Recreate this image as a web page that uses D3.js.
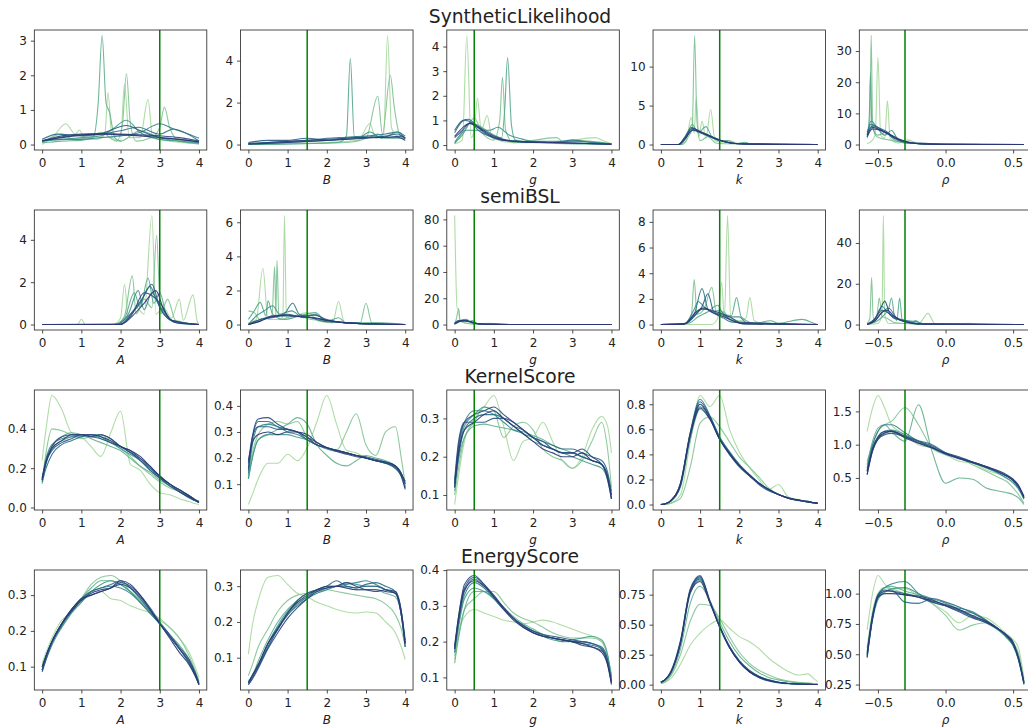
<!DOCTYPE html>
<html>
<head>
<meta charset="utf-8">
<script src="https://cdn.jsdelivr.net/npm/d3@7"></script>
<style>
  body { margin: 0; background: #fff; }
  svg text { font-family: "DejaVu Sans", sans-serif; fill: #222; }
</style>
</head>
<body>
<svg id="chart" width="1028" height="727"></svg>
<script>
const methods = ["SyntheticLikelihood", "semiBSL", "KernelScore", "EnergyScore"];
const params = ["A", "B", "g", "k", "ρ"];
const trueValues = [3, 1.5, 0.5, 1.5, -0.3];

const xTickLabels = ["0", "1", "2", "3", "4"];
const rhoTickLabels = ["−0.5", "0.0", "0.5"];
const yTickLabels = [
  [["0", "1", "2", "3"], ["0", "2", "4"], ["0", "1", "2", "3", "4"], ["0", "5", "10"], ["0", "10", "20", "30"]],
  [["0", "2", "4"], ["0", "2", "4", "6"], ["0", "20", "40", "60", "80"], ["0", "2", "4", "6", "8"], ["0", "20", "40"]],
  [["0.0", "0.2", "0.4"], ["0.1", "0.2", "0.3", "0.4"], ["0.1", "0.2", "0.3"], ["0.0", "0.2", "0.4", "0.6", "0.8"], ["0.5", "1.0", "1.5"]],
  [["0.1", "0.2", "0.3"], ["0.1", "0.2", "0.3"], ["0.1", "0.2", "0.3", "0.4"], ["0.00", "0.25", "0.50", "0.75"], ["0.25", "0.50", "0.75", "1.00"]]
];

// evaluation points for the smooth rows (KernelScore, EnergyScore)
const xGrid = [0, 0.1, 0.25, 0.5, 0.75, 1, 1.25, 1.5, 1.75, 2, 2.25, 2.5, 2.75, 3, 3.25, 3.5, 3.75, 3.9, 4];
const rhoGrid = [-0.58, -0.54, -0.5, -0.45, -0.4, -0.3, -0.2, -0.1, 0, 0.1, 0.2, 0.3, 0.4, 0.45, 0.5, 0.54, 0.58];

// SyntheticLikelihood: [x, density] knots per run
const slA = [
  [[0,0],[0.3,0.25],[0.6,0.6],[0.85,0.3],[0.95,0.42],[1.1,0.15],[1.4,0.15],[1.6,0.3],[1.68,1.5],[1.78,0.2],[2.0,0.1],[2.1,1.75],[2.22,0.2],[2.5,0.2],[2.7,1.3],[2.82,0.2],[3.2,0.1],[4,0.02]],
  [[0,0.05],[0.5,0.3],[0.8,0.15],[1.2,0.2],[1.5,0.35],[1.9,0.1],[2.05,0.6],[2.15,2.05],[2.25,0.6],[2.4,0.1],[2.8,0.2],[3.0,0.5],[3.12,1.08],[3.25,0.5],[3.5,0.1],[4,0.02]],
  [[0,0.05],[0.5,0.1],[1.0,0.12],[1.3,0.2],[1.43,1.2],[1.53,3.15],[1.63,1.2],[1.72,0.93],[1.85,0.2],[2.0,0.1],[2.5,0.4],[3.0,0.2],[3.5,0.1],[4,0.03]],
  [[0,0.1],[0.5,0.15],[1,0.2],[1.5,0.25],[1.8,0.45],[2.15,0.7],[2.5,0.35],[3.0,0.15],[3.5,0.1],[4,0.05]],
  [[0,0.12],[0.5,0.15],[1,0.15],[1.5,0.2],[2,0.25],[2.5,0.35],[3.0,0.6],[3.35,0.45],[3.75,0.3],[4,0.18]],
  [[0,0.15],[0.4,0.3],[1,0.25],[1.5,0.3],[2,0.4],[2.45,0.5],[3,0.3],[3.35,0.45],[3.8,0.25],[4,0.1]],
  [[0,0.1],[0.5,0.22],[1,0.28],[1.5,0.32],[2.15,0.55],[2.5,0.4],[3,0.2],[3.5,0.15],[4,0.08]],
  [[0,0.1],[0.5,0.25],[1,0.3],[1.5,0.32],[2,0.3],[2.5,0.28],[3,0.25],[3.5,0.2],[4,0.1]],
  [[0,0.1],[0.5,0.2],[1,0.27],[1.5,0.3],[2,0.28],[2.5,0.25],[3,0.2],[3.5,0.15],[4,0.07]]
];
const slB = [
  [[0,0],[1,0.05],[2,0.1],[2.8,0.2],[3.1,1.0],[3.25,0.3],[3.45,0.5],[3.55,5.2],[3.65,0.8],[3.8,0.4],[4,0.3]],
  [[0,0],[1.5,0.05],[2.5,0.1],[3.0,0.3],[3.3,2.3],[3.42,0.5],[3.62,3.3],[3.72,1.8],[3.85,0.5],[4,0.2]],
  [[0,0],[2.3,0.1],[2.5,0.4],[2.6,4.1],[2.7,0.4],[3.0,0.3],[3.3,0.5],[3.5,0.3],[4,0.3]],
  [[0,0],[1,0.1],[2,0.2],[2.8,0.3],[3.1,0.6],[3.4,0.3],[3.8,0.6],[4,0.3]],
  [[0,0.05],[1,0.15],[1.5,0.2],[2,0.3],[2.5,0.35],[3,0.4],[3.5,0.5],[3.8,0.6],[4,0.4]],
  [[0,0.1],[0.5,0.2],[1,0.2],[1.5,0.3],[2,0.2],[2.5,0.3],[3.0,0.35],[3.5,0.4],[3.8,0.5],[4,0.3]],
  [[0,0.05],[0.5,0.1],[1,0.15],[1.5,0.2],[2,0.25],[2.5,0.3],[3,0.35],[3.5,0.35],[3.9,0.4],[4,0.3]],
  [[0,0.02],[1,0.1],[2,0.2],[3,0.3],[3.5,0.35],[3.8,0.35],[4,0.2]]
];
const slG = [
  [[0,0.05],[0.2,0.2],[0.31,4.45],[0.42,0.3],[0.5,0.6],[0.58,1.9],[0.68,0.6],[0.83,1.2],[0.95,0.3],[1.5,0.1],[2.5,0.1],[3.6,0.3],[3.75,0.2],[4,0.05]],
  [[0,0.05],[0.3,0.7],[0.5,1.1],[0.7,0.5],[1.0,0.2],[1.15,1.0],[1.22,2.75],[1.3,0.6],[1.5,0.1],[2.6,0.3],[2.8,0.1],[3,0.2],[4,0.05]],
  [[0,0.1],[0.2,0.4],[0.4,0.9],[0.6,0.8],[0.9,0.5],[1.2,0.3],[1.28,1.5],[1.35,3.55],[1.45,0.8],[1.55,0.2],[2,0.1],[4,0.02]],
  [[0,0.1],[0.3,0.6],[0.6,0.6],[0.9,0.6],[1.1,0.72],[1.4,0.4],[1.7,0.25],[2,0.15],[3,0.15],[4,0.05]],
  [[0,0.5],[0.25,1.0],[0.4,0.95],[0.6,0.6],[0.9,0.35],[1.2,0.2],[1.7,0.15],[2.5,0.1],[3,0.2],[3.5,0.1],[4,0.05]],
  [[0,0.6],[0.2,1.0],[0.35,1.05],[0.55,0.8],[0.8,0.45],[1.1,0.25],[1.5,0.15],[2.5,0.1],[4,0.03]],
  [[0,0.3],[0.2,0.6],[0.4,0.9],[0.6,0.75],[0.9,0.45],[1.2,0.25],[1.6,0.15],[2.5,0.1],[4,0.03]],
  [[0,0.35],[0.2,0.7],[0.38,0.88],[0.6,0.7],[0.9,0.4],[1.2,0.22],[1.6,0.14],[2.5,0.1],[4,0.03]]
];
const slK = [
  [[0,0],[0.5,0],[0.65,0.5],[0.77,3.5],[0.85,1.5],[0.9,6],[0.97,1.0],[1.05,3.0],[1.15,0.8],[1.27,4.5],[1.38,0.5],[1.6,0.3],[1.75,0.5],[2,0.1],[4,0]],
  [[0,0],[0.55,0],[0.7,1.0],[0.8,2.0],[0.86,14],[0.92,3.0],[1.0,0.5],[1.2,1.0],[1.4,0.2],[1.6,0.1],[4,0]],
  [[0,0],[0.5,0],[0.65,1.0],[0.8,2.6],[0.95,1.5],[1.15,2.3],[1.3,1.0],[1.5,0.5],[1.7,0.5],[1.9,0.1],[2.15,0.3],[2.3,0.05],[4,0]],
  [[0,0],[0.45,0],[0.6,0.8],[0.8,2.0],[1.0,1.6],[1.2,1.2],[1.5,0.6],[1.8,0.2],[2.5,0.05],[4,0]],
  [[0,0],[0.45,0],[0.6,0.9],[0.78,2.2],[1.0,1.5],[1.3,0.9],[1.6,0.4],[2,0.1],[4,0]],
  [[0,0],[0.45,0],[0.6,0.7],[0.8,1.8],[1.0,1.6],[1.3,1.0],[1.6,0.4],[2,0.1],[4,0]],
  [[0,0],[0.45,0],[0.6,0.8],[0.8,2.1],[1.0,1.7],[1.3,1.0],[1.6,0.4],[2,0.1],[4,0]],
  [[0,0],[0.45,0],[0.6,0.6],[0.82,1.9],[1.05,1.5],[1.35,0.8],[1.7,0.3],[2.2,0.05],[4,0]]
];
const slRho = [
  [[-0.58,0.3],[-0.55,1],[-0.52,3],[-0.5,28],[-0.48,3],[-0.45,2],[-0.43,14],[-0.41,2],[-0.35,0.5],[-0.28,1.5],[-0.2,0.3],[0,0.1],[0.25,0.3],[0.58,0]],
  [[-0.58,2],[-0.56,8],[-0.55,35],[-0.54,8],[-0.52,3],[-0.48,2],[-0.42,1.5],[-0.3,0.5],[-0.15,0.3],[0.58,0]],
  [[-0.58,3],[-0.565,8],[-0.555,23],[-0.545,6],[-0.5,3],[-0.44,4],[-0.38,1.5],[-0.3,0.5],[0,0.1],[0.58,0]],
  [[-0.58,2.5],[-0.55,7.5],[-0.5,5],[-0.45,3],[-0.4,4.5],[-0.35,1.5],[-0.28,0.5],[0,0],[0.58,0]],
  [[-0.58,4],[-0.55,6.5],[-0.5,5.5],[-0.45,4],[-0.4,2.5],[-0.33,1],[-0.25,0.5],[-0.1,0.1],[0.58,0]],
  [[-0.58,3.5],[-0.54,6],[-0.5,5.5],[-0.45,4.5],[-0.4,3],[-0.33,1.2],[-0.25,0.6],[-0.15,0.4],[0,0.05],[0.58,0]],
  [[-0.58,3],[-0.54,5.5],[-0.5,5],[-0.45,4],[-0.4,3],[-0.33,1.5],[-0.25,0.5],[-0.1,0.1],[0.58,0]],
  [[-0.58,2.5],[-0.54,5],[-0.49,4.7],[-0.43,3.5],[-0.38,2.2],[-0.3,1],[-0.2,0.3],[0,0.05],[0.58,0]]
];

// semiBSL: [x, density] knots per run
const sbA = [
  [[0,0],[0.9,0],[1.0,0.25],[1.1,0],[1.8,0],[2.0,0.3],[2.1,1.9],[2.2,0.3],[2.4,0.8],[2.6,0.5],[2.8,5.15],[2.9,0.5],[3.1,0.8],[3.3,0.3],[3.5,1.2],[3.6,0.2],[3.85,1.4],[3.95,0.2],[4,0]],
  [[0,0],[1.9,0],[2.1,0.4],[2.3,2.3],[2.4,0.5],[2.6,1.2],[2.8,0.8],[2.92,4.2],[3.02,0.5],[3.2,1.2],[3.4,0.2],[4,0]],
  [[0,0],[1.8,0],[2.1,0.3],[2.35,1.5],[2.5,0.8],[2.7,2.2],[2.85,1.0],[3.0,1.5],[3.2,0.3],[3.5,0.1],[4,0]],
  [[0,0],[1.9,0],[2.2,0.5],[2.45,1.6],[2.6,0.7],[2.8,1.5],[3.0,0.9],[3.3,0.2],[4,0]],
  [[0,0],[1.9,0],[2.2,0.4],[2.5,1.0],[2.75,1.8],[2.95,1.0],[3.2,0.3],[3.5,0.05],[4,0]],
  [[0,0],[2.0,0],[2.3,0.6],[2.55,1.2],[2.8,1.9],[3.0,0.8],[3.3,0.2],[4,0]],
  [[0,0],[2.0,0.02],[2.3,0.5],[2.6,1.5],[2.85,1.3],[3.05,0.9],[3.3,0.2],[4,0]],
  [[0,0],[2.0,0],[2.3,0.4],[2.6,1.0],[2.9,1.6],[3.1,0.7],[3.4,0.1],[4,0]]
];
const sbB = [
  [[0,0.1],[0.2,0.3],[0.37,3.3],[0.5,0.3],[0.8,0.3],[0.88,0.5],[0.92,6.4],[0.97,0.3],[1.5,0.7],[1.8,0.2],[2.15,0.1],[2.3,1.35],[2.45,0.1],[4,0]],
  [[0,0.8],[0.15,0.7],[0.3,0.3],[0.6,0.5],[0.67,3.4],[0.7,0.5],[0.73,3.75],[0.78,0.3],[1.2,0.5],[1.6,0.3],[2.85,0.1],[3.0,1.25],[3.15,0.1],[4,0]],
  [[0,0.3],[0.15,0.8],[0.3,1.3],[0.45,0.5],[0.5,1.4],[0.62,0.6],[0.9,0.3],[1.3,0.5],[1.7,0.7],[2.0,0.2],[2.3,0.4],[2.5,0.1],[3.4,0.1],[4,0]],
  [[0,0],[0.2,0.5],[0.4,0.8],[0.62,1.1],[0.8,0.6],[1.1,0.8],[1.4,0.4],[1.7,0.6],[2.0,0.2],[3,0.05],[4,0]],
  [[0,0],[0.3,0.3],[0.6,0.5],[0.9,0.6],[1.13,1.25],[1.3,0.6],[1.6,0.4],[1.9,0.2],[2.5,0.1],[4,0]],
  [[0,0],[0.3,0.3],[0.6,0.4],[1.0,0.6],[1.3,0.5],[1.68,0.55],[2.0,0.3],[2.5,0.1],[3.5,0.02],[4,0]],
  [[0,0],[0.3,0.2],[0.6,0.5],[1.0,0.5],[1.4,0.45],[1.7,0.4],[2.0,0.25],[2.5,0.1],[3.5,0.02],[4,0]],
  [[0,0],[0.3,0.2],[0.6,0.45],[1.0,0.55],[1.2,0.5],[1.6,0.4],[2.0,0.25],[2.5,0.1],[3.5,0.02],[4,0]]
];
const sbG = [
  [[0,83],[0.03,40],[0.06,12],[0.1,12],[0.13,3],[0.2,2],[0.3,1],[0.5,0.5],[0.9,1],[1.2,0.3],[1.5,0],[4,0]],
  [[0,0],[0.05,5],[0.1,12],[0.14,3],[0.2,2],[0.3,1],[0.5,0.3],[1,0],[4,0]],
  [[0,0.5],[0.1,2],[0.25,4],[0.35,2],[0.45,3],[0.6,0.5],[1,0.5],[1.3,0],[4,0]],
  [[0,1],[0.1,3],[0.2,2.5],[0.3,4],[0.4,2],[0.6,0.5],[1,0.1],[4,0]],
  [[0,0.5],[0.1,2.5],[0.2,3.5],[0.35,2.5],[0.5,1],[0.8,0.3],[1.2,0],[4,0]],
  [[0,1],[0.1,3],[0.25,3],[0.4,2],[0.6,0.5],[1,0.1],[4,0]],
  [[0,0.5],[0.12,2.5],[0.25,3],[0.4,2.2],[0.6,0.6],[1,0.1],[4,0]],
  [[0,0.3],[0.1,2],[0.2,3],[0.35,2.5],[0.55,0.8],[1,0.1],[4,0]]
];
const sbK = [
  [[0,0],[1.3,0],[1.45,0.5],[1.55,3.3],[1.62,0.4],[1.7,8.5],[1.78,0.5],[2.0,0.3],[2.17,0.5],[2.27,2.1],[2.38,0.3],[2.6,0.1],[4,0]],
  [[0,0],[0.6,0.1],[0.78,0.8],[0.85,3.5],[0.92,0.8],[1.1,1.2],[1.3,2.9],[1.42,0.8],[1.6,1.0],[1.8,0.2],[2.2,0.1],[4,0]],
  [[0,0],[0.7,0.1],[0.95,0.6],[1.2,1.0],[1.45,1.5],[1.6,0.8],[1.8,0.7],[1.93,2.1],[2.05,0.6],[2.4,0.1],[2.8,0.3],[3.0,0.1],[3.6,0.4],[3.9,0.1],[4,0]],
  [[0,0],[0.6,0.05],[0.85,1.2],[0.95,1.8],[1.1,1.4],[1.3,1.0],[1.5,1.1],[1.7,0.6],[2.0,0.6],[2.2,0.1],[4,0]],
  [[0,0],[0.6,0.05],[0.85,0.8],[1.05,2.8],[1.2,1.2],[1.4,0.8],[1.6,0.5],[1.8,0.2],[4,0]],
  [[0,0],[0.6,0.05],[0.9,0.8],[1.05,1.4],[1.2,2.4],[1.35,1.0],[1.6,0.7],[1.9,0.2],[2.2,0.05],[4,0]],
  [[0,0],[0.6,0.05],[0.85,0.7],[1.05,1.2],[1.3,1.1],[1.5,0.9],[1.75,0.6],[2.0,0.2],[4,0]],
  [[0,0],[0.6,0.05],[0.9,1.0],[1.1,1.3],[1.35,0.9],[1.6,0.6],[1.85,0.3],[2.1,0.05],[4,0]]
];
const sbRho = [
  [[-0.58,0],[-0.5,0.5],[-0.47,5],[-0.46,53.5],[-0.45,5],[-0.42,0.5],[-0.3,0.5],[-0.2,0.3],[-0.13,5.5],[-0.08,0.5],[0,0.1],[0.17,0.6],[0.25,0],[0.58,0]],
  [[-0.58,0.5],[-0.56,3],[-0.547,23],[-0.535,3],[-0.51,4],[-0.49,13],[-0.47,4],[-0.43,3],[-0.38,1],[-0.3,0.5],[0,0],[0.58,0]],
  [[-0.58,0],[-0.5,2],[-0.45,5],[-0.42,8],[-0.4,13],[-0.38,5],[-0.36,2],[-0.34,13],[-0.32,2],[-0.25,1],[-0.22,2],[-0.18,0.3],[0.58,0]],
  [[-0.58,0],[-0.52,3],[-0.47,9],[-0.43,6],[-0.38,4],[-0.3,2],[-0.22,1.5],[-0.15,0.2],[0.58,0]],
  [[-0.58,0],[-0.52,2],[-0.47,6],[-0.42,8],[-0.36,3],[-0.3,1.5],[-0.2,0.5],[0.58,0]],
  [[-0.58,0],[-0.52,3],[-0.47,7],[-0.43,6],[-0.38,3],[-0.3,2],[-0.2,0.4],[0.58,0]],
  [[-0.58,0],[-0.53,2],[-0.48,8],[-0.45,11.5],[-0.41,5],[-0.35,2.5],[-0.28,1],[-0.2,0.2],[0.58,0]],
  [[-0.58,0],[-0.52,2],[-0.47,6],[-0.43,7],[-0.38,4],[-0.3,1.5],[-0.2,0.3],[0.58,0]]
];

// KernelScore: density at xGrid / rhoGrid per run
const ksA = [
  [0.24, 0.40, 0.57, 0.50, 0.38, 0.36, 0.31, 0.26, 0.38, 0.49, 0.22, 0.19, 0.12, 0.075, 0.065, 0.045, 0.03, 0.02, 0.015],
  [0.13, 0.28, 0.40, 0.39, 0.37, 0.35, 0.36, 0.37, 0.33, 0.30, 0.26, 0.21, 0.17, 0.13, 0.10, 0.08, 0.05, 0.035, 0.025],
  [0.12, 0.22, 0.31, 0.36, 0.38, 0.37, 0.35, 0.33, 0.31, 0.29, 0.25, 0.21, 0.18, 0.14, 0.11, 0.08, 0.06, 0.04, 0.03],
  [0.14, 0.24, 0.30, 0.34, 0.36, 0.37, 0.37, 0.35, 0.33, 0.30, 0.27, 0.24, 0.19, 0.15, 0.11, 0.08, 0.05, 0.035, 0.025],
  [0.15, 0.25, 0.32, 0.35, 0.36, 0.36, 0.37, 0.36, 0.33, 0.31, 0.28, 0.25, 0.20, 0.16, 0.12, 0.09, 0.06, 0.04, 0.03],
  [0.13, 0.20, 0.27, 0.32, 0.34, 0.36, 0.37, 0.37, 0.35, 0.31, 0.28, 0.24, 0.20, 0.15, 0.12, 0.09, 0.06, 0.04, 0.03],
  [0.14, 0.23, 0.29, 0.33, 0.35, 0.37, 0.36, 0.35, 0.33, 0.31, 0.28, 0.24, 0.19, 0.15, 0.11, 0.08, 0.05, 0.035, 0.025],
  [0.14, 0.24, 0.31, 0.36, 0.37, 0.37, 0.36, 0.37, 0.35, 0.31, 0.29, 0.25, 0.21, 0.16, 0.12, 0.08, 0.055, 0.035, 0.025],
  [0.15, 0.23, 0.30, 0.34, 0.37, 0.37, 0.37, 0.36, 0.34, 0.31, 0.29, 0.26, 0.21, 0.16, 0.12, 0.09, 0.06, 0.04, 0.028]
];
const ksB = [
  [0.022, 0.06, 0.12, 0.18, 0.18, 0.215, 0.19, 0.24, 0.34, 0.44, 0.33, 0.23, 0.22, 0.20, 0.19, 0.18, 0.16, 0.14, 0.11],
  [0.13, 0.22, 0.29, 0.33, 0.34, 0.33, 0.34, 0.28, 0.25, 0.24, 0.23, 0.30, 0.37, 0.25, 0.21, 0.30, 0.32, 0.20, 0.10],
  [0.12, 0.20, 0.27, 0.29, 0.31, 0.33, 0.355, 0.33, 0.25, 0.21, 0.18, 0.17, 0.19, 0.21, 0.20, 0.19, 0.17, 0.14, 0.09],
  [0.12, 0.20, 0.27, 0.29, 0.29, 0.29, 0.28, 0.27, 0.25, 0.24, 0.23, 0.22, 0.21, 0.20, 0.19, 0.18, 0.17, 0.14, 0.09],
  [0.14, 0.25, 0.32, 0.33, 0.32, 0.30, 0.29, 0.27, 0.25, 0.235, 0.225, 0.22, 0.21, 0.20, 0.19, 0.185, 0.17, 0.14, 0.10],
  [0.15, 0.27, 0.34, 0.34, 0.32, 0.31, 0.30, 0.27, 0.25, 0.24, 0.23, 0.22, 0.21, 0.20, 0.19, 0.18, 0.16, 0.13, 0.085],
  [0.18, 0.28, 0.32, 0.32, 0.31, 0.31, 0.30, 0.28, 0.26, 0.24, 0.23, 0.22, 0.21, 0.205, 0.195, 0.185, 0.17, 0.14, 0.10],
  [0.16, 0.28, 0.35, 0.355, 0.33, 0.31, 0.30, 0.28, 0.25, 0.24, 0.225, 0.215, 0.205, 0.20, 0.19, 0.18, 0.165, 0.13, 0.08],
  [0.19, 0.26, 0.29, 0.30, 0.29, 0.30, 0.30, 0.29, 0.26, 0.24, 0.23, 0.22, 0.21, 0.20, 0.19, 0.185, 0.17, 0.14, 0.11]
];
const ksG = [
  [0.075, 0.15, 0.24, 0.30, 0.33, 0.36, 0.28, 0.19, 0.24, 0.25, 0.29, 0.24, 0.19, 0.17, 0.20, 0.27, 0.305, 0.28, 0.21],
  [0.10, 0.17, 0.25, 0.29, 0.33, 0.32, 0.25, 0.28, 0.29, 0.27, 0.22, 0.20, 0.19, 0.17, 0.19, 0.24, 0.29, 0.22, 0.12],
  [0.11, 0.19, 0.25, 0.28, 0.285, 0.28, 0.275, 0.27, 0.265, 0.255, 0.245, 0.23, 0.22, 0.21, 0.20, 0.19, 0.18, 0.15, 0.10],
  [0.12, 0.21, 0.28, 0.31, 0.33, 0.32, 0.30, 0.28, 0.26, 0.25, 0.23, 0.22, 0.21, 0.20, 0.19, 0.18, 0.17, 0.14, 0.09],
  [0.13, 0.22, 0.29, 0.32, 0.32, 0.31, 0.29, 0.27, 0.26, 0.24, 0.23, 0.22, 0.21, 0.21, 0.20, 0.19, 0.18, 0.15, 0.10],
  [0.12, 0.20, 0.27, 0.30, 0.31, 0.31, 0.30, 0.28, 0.27, 0.25, 0.24, 0.23, 0.22, 0.22, 0.21, 0.20, 0.19, 0.16, 0.11],
  [0.14, 0.24, 0.29, 0.29, 0.29, 0.30, 0.30, 0.29, 0.27, 0.25, 0.24, 0.22, 0.21, 0.21, 0.20, 0.19, 0.18, 0.15, 0.10],
  [0.13, 0.23, 0.29, 0.31, 0.32, 0.33, 0.31, 0.29, 0.27, 0.25, 0.23, 0.22, 0.21, 0.21, 0.22, 0.20, 0.18, 0.15, 0.09],
  [0.12, 0.21, 0.27, 0.29, 0.31, 0.32, 0.30, 0.28, 0.26, 0.24, 0.22, 0.21, 0.20, 0.20, 0.21, 0.19, 0.18, 0.14, 0.09]
];
const ksK = [
  [0, 0, 0.01, 0.08, 0.5, 0.87, 0.78, 0.87, 0.6, 0.42, 0.3, 0.2, 0.12, 0.16, 0.06, 0.04, 0.02, 0.015, 0.01],
  [0, 0, 0.01, 0.05, 0.3, 0.65, 0.70, 0.62, 0.5, 0.38, 0.3, 0.22, 0.13, 0.08, 0.05, 0.03, 0.02, 0.015, 0.01],
  [0, 0.005, 0.03, 0.14, 0.52, 0.76, 0.68, 0.52, 0.41, 0.31, 0.24, 0.17, 0.12, 0.08, 0.05, 0.035, 0.02, 0.015, 0.01],
  [0, 0.005, 0.03, 0.16, 0.56, 0.80, 0.69, 0.53, 0.42, 0.32, 0.24, 0.17, 0.12, 0.08, 0.05, 0.035, 0.02, 0.015, 0.01],
  [0, 0.005, 0.03, 0.17, 0.58, 0.84, 0.71, 0.54, 0.42, 0.32, 0.24, 0.17, 0.12, 0.08, 0.055, 0.035, 0.025, 0.015, 0.01],
  [0, 0.005, 0.025, 0.15, 0.55, 0.78, 0.70, 0.53, 0.41, 0.31, 0.23, 0.17, 0.12, 0.08, 0.05, 0.035, 0.02, 0.015, 0.01],
  [0, 0.005, 0.03, 0.16, 0.57, 0.82, 0.70, 0.52, 0.40, 0.30, 0.23, 0.16, 0.11, 0.08, 0.05, 0.035, 0.02, 0.015, 0.01],
  [0, 0.005, 0.03, 0.17, 0.57, 0.80, 0.69, 0.52, 0.40, 0.31, 0.23, 0.17, 0.12, 0.08, 0.055, 0.035, 0.025, 0.015, 0.01],
  [0, 0.005, 0.03, 0.16, 0.55, 0.77, 0.68, 0.52, 0.41, 0.31, 0.24, 0.17, 0.12, 0.08, 0.05, 0.035, 0.02, 0.015, 0.01]
];
const ksRho = [
  [1.2, 1.55, 1.74, 1.55, 1.3, 1.15, 1.0, 0.95, 0.85, 0.75, 0.72, 0.62, 0.55, 0.50, 0.42, 0.35, 0.22],
  [0.75, 1.0, 1.2, 1.3, 1.35, 1.56, 1.3, 0.95, 0.85, 0.8, 0.7, 0.6, 0.5, 0.45, 0.35, 0.25, 0.12],
  [0.7, 1.05, 1.25, 1.3, 1.2, 1.05, 1.6, 0.9, 0.42, 0.5, 0.48, 0.35, 0.3, 0.28, 0.25, 0.2, 0.1],
  [0.62, 0.95, 1.12, 1.2, 1.22, 1.15, 1.05, 0.96, 0.87, 0.8, 0.73, 0.66, 0.58, 0.53, 0.46, 0.36, 0.2],
  [0.65, 1.0, 1.2, 1.3, 1.3, 1.18, 1.05, 0.95, 0.86, 0.79, 0.73, 0.65, 0.56, 0.5, 0.43, 0.33, 0.18],
  [0.6, 0.92, 1.08, 1.17, 1.2, 1.13, 1.06, 1.0, 0.88, 0.8, 0.74, 0.67, 0.58, 0.53, 0.46, 0.37, 0.22],
  [0.55, 0.9, 1.08, 1.15, 1.17, 1.12, 1.05, 0.98, 0.88, 0.82, 0.74, 0.67, 0.58, 0.54, 0.47, 0.38, 0.2],
  [0.6, 0.95, 1.12, 1.2, 1.21, 1.12, 1.03, 0.96, 0.86, 0.79, 0.73, 0.66, 0.58, 0.53, 0.46, 0.36, 0.2],
  [0.55, 0.92, 1.1, 1.18, 1.2, 1.1, 1.02, 0.95, 0.87, 0.8, 0.74, 0.67, 0.6, 0.55, 0.48, 0.39, 0.22]
];

// EnergyScore: density at xGrid / rhoGrid per run
const esA = [
  [0.11, 0.14, 0.18, 0.23, 0.25, 0.28, 0.31, 0.31, 0.29, 0.285, 0.27, 0.26, 0.25, 0.235, 0.21, 0.18, 0.14, 0.10, 0.07],
  [0.10, 0.13, 0.17, 0.21, 0.25, 0.29, 0.33, 0.35, 0.355, 0.34, 0.31, 0.28, 0.25, 0.23, 0.21, 0.18, 0.13, 0.09, 0.06],
  [0.09, 0.13, 0.17, 0.22, 0.26, 0.29, 0.32, 0.34, 0.34, 0.33, 0.31, 0.285, 0.255, 0.22, 0.19, 0.16, 0.12, 0.085, 0.055],
  [0.09, 0.12, 0.16, 0.21, 0.25, 0.28, 0.31, 0.33, 0.34, 0.33, 0.31, 0.28, 0.25, 0.22, 0.19, 0.15, 0.11, 0.08, 0.05],
  [0.10, 0.13, 0.17, 0.22, 0.255, 0.29, 0.31, 0.32, 0.325, 0.32, 0.305, 0.28, 0.25, 0.22, 0.185, 0.15, 0.11, 0.08, 0.05],
  [0.09, 0.13, 0.17, 0.22, 0.26, 0.29, 0.31, 0.32, 0.33, 0.34, 0.32, 0.29, 0.255, 0.22, 0.185, 0.15, 0.11, 0.075, 0.05],
  [0.085, 0.12, 0.165, 0.215, 0.255, 0.285, 0.30, 0.31, 0.32, 0.335, 0.325, 0.30, 0.265, 0.225, 0.19, 0.155, 0.12, 0.085, 0.055],
  [0.09, 0.13, 0.17, 0.22, 0.255, 0.285, 0.305, 0.315, 0.32, 0.33, 0.32, 0.295, 0.26, 0.22, 0.185, 0.15, 0.115, 0.08, 0.05],
  [0.10, 0.13, 0.17, 0.22, 0.26, 0.29, 0.30, 0.31, 0.32, 0.34, 0.33, 0.30, 0.26, 0.22, 0.18, 0.14, 0.105, 0.075, 0.05]
];
const esB = [
  [0.11, 0.19, 0.26, 0.325, 0.33, 0.305, 0.28, 0.27, 0.255, 0.245, 0.235, 0.228, 0.225, 0.228, 0.225, 0.20, 0.17, 0.13, 0.095],
  [0.05, 0.08, 0.13, 0.18, 0.23, 0.26, 0.275, 0.28, 0.285, 0.29, 0.285, 0.28, 0.275, 0.27, 0.265, 0.25, 0.22, 0.18, 0.13],
  [0.035, 0.05, 0.09, 0.15, 0.20, 0.235, 0.26, 0.28, 0.29, 0.30, 0.30, 0.295, 0.29, 0.29, 0.29, 0.28, 0.27, 0.22, 0.14],
  [0.03, 0.05, 0.08, 0.14, 0.19, 0.23, 0.255, 0.27, 0.285, 0.295, 0.30, 0.31, 0.305, 0.30, 0.30, 0.29, 0.285, 0.23, 0.14],
  [0.03, 0.045, 0.075, 0.13, 0.18, 0.22, 0.245, 0.265, 0.28, 0.29, 0.30, 0.305, 0.31, 0.315, 0.305, 0.29, 0.28, 0.22, 0.13],
  [0.025, 0.045, 0.075, 0.13, 0.18, 0.22, 0.25, 0.27, 0.29, 0.30, 0.315, 0.30, 0.295, 0.305, 0.31, 0.30, 0.285, 0.22, 0.13],
  [0.03, 0.05, 0.08, 0.14, 0.185, 0.225, 0.26, 0.28, 0.29, 0.295, 0.30, 0.30, 0.295, 0.30, 0.30, 0.29, 0.28, 0.23, 0.15],
  [0.025, 0.04, 0.07, 0.125, 0.17, 0.21, 0.24, 0.265, 0.285, 0.295, 0.30, 0.31, 0.30, 0.29, 0.285, 0.29, 0.285, 0.23, 0.14],
  [0.03, 0.05, 0.08, 0.14, 0.18, 0.225, 0.255, 0.275, 0.29, 0.30, 0.30, 0.295, 0.29, 0.29, 0.29, 0.285, 0.28, 0.22, 0.14]
];
const esG = [
  [0.15, 0.22, 0.27, 0.29, 0.28, 0.27, 0.26, 0.255, 0.25, 0.255, 0.26, 0.255, 0.245, 0.235, 0.225, 0.215, 0.20, 0.16, 0.11],
  [0.16, 0.22, 0.29, 0.32, 0.34, 0.34, 0.31, 0.28, 0.265, 0.255, 0.24, 0.225, 0.215, 0.21, 0.21, 0.21, 0.20, 0.16, 0.10],
  [0.14, 0.21, 0.29, 0.34, 0.34, 0.32, 0.295, 0.27, 0.25, 0.235, 0.22, 0.21, 0.20, 0.20, 0.20, 0.195, 0.18, 0.15, 0.10],
  [0.17, 0.24, 0.32, 0.35, 0.34, 0.32, 0.29, 0.265, 0.245, 0.23, 0.215, 0.205, 0.20, 0.205, 0.21, 0.215, 0.205, 0.165, 0.10],
  [0.17, 0.25, 0.33, 0.365, 0.35, 0.32, 0.29, 0.265, 0.245, 0.225, 0.215, 0.21, 0.205, 0.20, 0.20, 0.195, 0.18, 0.145, 0.09],
  [0.18, 0.26, 0.34, 0.375, 0.355, 0.325, 0.295, 0.265, 0.245, 0.23, 0.22, 0.21, 0.205, 0.20, 0.195, 0.19, 0.18, 0.14, 0.085],
  [0.18, 0.27, 0.35, 0.38, 0.36, 0.325, 0.295, 0.265, 0.245, 0.23, 0.22, 0.215, 0.21, 0.205, 0.20, 0.195, 0.185, 0.15, 0.09],
  [0.19, 0.27, 0.36, 0.385, 0.36, 0.33, 0.295, 0.265, 0.24, 0.225, 0.215, 0.21, 0.205, 0.20, 0.19, 0.185, 0.175, 0.14, 0.085],
  [0.18, 0.26, 0.345, 0.37, 0.355, 0.325, 0.29, 0.26, 0.24, 0.225, 0.215, 0.21, 0.205, 0.20, 0.195, 0.185, 0.17, 0.135, 0.08]
];
const esK = [
  [0.01, 0.02, 0.05, 0.17, 0.33, 0.43, 0.50, 0.54, 0.47, 0.40, 0.36, 0.30, 0.22, 0.16, 0.11, 0.08, 0.09, 0.05, 0.025],
  [0.01, 0.02, 0.07, 0.25, 0.53, 0.67, 0.66, 0.55, 0.40, 0.27, 0.18, 0.12, 0.08, 0.05, 0.03, 0.02, 0.015, 0.01, 0.01],
  [0.015, 0.03, 0.08, 0.30, 0.68, 0.82, 0.70, 0.52, 0.36, 0.24, 0.16, 0.10, 0.06, 0.04, 0.025, 0.015, 0.01, 0.005, 0.003],
  [0.02, 0.04, 0.10, 0.34, 0.76, 0.87, 0.69, 0.49, 0.32, 0.20, 0.12, 0.07, 0.04, 0.02, 0.01, 0.005, 0.003, 0.002, 0.001],
  [0.02, 0.04, 0.10, 0.35, 0.78, 0.89, 0.69, 0.48, 0.31, 0.19, 0.11, 0.065, 0.035, 0.02, 0.01, 0.005, 0.003, 0.002, 0.001],
  [0.02, 0.04, 0.11, 0.37, 0.80, 0.91, 0.69, 0.48, 0.31, 0.19, 0.11, 0.06, 0.03, 0.015, 0.008, 0.004, 0.002, 0.001, 0.001],
  [0.02, 0.04, 0.10, 0.35, 0.78, 0.88, 0.69, 0.49, 0.32, 0.20, 0.12, 0.07, 0.04, 0.02, 0.01, 0.005, 0.003, 0.002, 0.001],
  [0.02, 0.04, 0.10, 0.36, 0.79, 0.90, 0.70, 0.48, 0.31, 0.19, 0.11, 0.06, 0.035, 0.018, 0.01, 0.005, 0.003, 0.002, 0.001],
  [0.02, 0.04, 0.10, 0.34, 0.77, 0.86, 0.68, 0.48, 0.31, 0.19, 0.11, 0.065, 0.035, 0.02, 0.01, 0.005, 0.003, 0.002, 0.001]
];
const esRho = [
  [0.7, 1.0, 1.15, 1.08, 1.04, 1.04, 0.98, 0.92, 0.85, 0.76, 0.82, 0.8, 0.72, 0.67, 0.62, 0.55, 0.3],
  [0.55, 0.85, 1.0, 1.05, 1.04, 1.0, 0.98, 0.92, 0.82, 0.7, 0.74, 0.76, 0.7, 0.64, 0.57, 0.45, 0.26],
  [0.5, 0.8, 0.98, 1.05, 1.06, 1.02, 0.99, 0.95, 0.9, 0.86, 0.84, 0.77, 0.7, 0.66, 0.6, 0.5, 0.28],
  [0.48, 0.78, 0.95, 1.01, 1.04, 1.05, 1.0, 0.96, 0.92, 0.87, 0.81, 0.76, 0.69, 0.64, 0.57, 0.46, 0.27],
  [0.5, 0.82, 0.98, 1.05, 1.08, 1.1, 1.0, 0.93, 0.9, 0.88, 0.85, 0.78, 0.7, 0.65, 0.58, 0.45, 0.25],
  [0.47, 0.8, 0.98, 1.02, 1.03, 0.93, 0.92, 0.96, 0.93, 0.89, 0.84, 0.78, 0.7, 0.65, 0.58, 0.46, 0.26],
  [0.5, 0.8, 0.97, 1.02, 1.02, 1.0, 0.97, 0.93, 0.9, 0.86, 0.81, 0.77, 0.7, 0.65, 0.58, 0.46, 0.26],
  [0.52, 0.82, 0.99, 1.03, 1.02, 0.99, 0.98, 0.95, 0.9, 0.85, 0.8, 0.76, 0.7, 0.66, 0.6, 0.47, 0.27],
  [0.48, 0.8, 0.97, 1.0, 1.0, 0.99, 0.97, 0.94, 0.91, 0.87, 0.82, 0.77, 0.7, 0.66, 0.59, 0.47, 0.26]
];

const panels = [
  [slA, slB, slG, slK, slRho],
  [sbA, sbB, sbG, sbK, sbRho],
  [ksA, ksB, ksG, ksK, ksRho],
  [esA, esB, esG, esK, esRho]
];

const svg = d3.select('#chart');
// light green -> teal -> navy, like seaborn "crest"
const crest = d3.interpolateRgbBasis(["#a6d89c", "#7cc191", "#55a98c", "#379189", "#2a7787", "#275d85", "#2a4680", "#2c3474"]);

const panelW = 172.5, panelH = 120;

methods.forEach(function (m, r) {
  svg.append('text')
    .attr('x', 520)
    .attr('y', 30 + 180 * r - 7)
    .attr('text-anchor', 'middle')
    .attr('font-size', 18.7)
    .text(m);
  params.forEach(function (p, c) {
    drawPanel(r, c);
  });
});

function drawPanel(r, c) {
  var left = 34.3 + 206.25 * c;
  var top = 30 + 180 * r;
  var raw = panels[r][c];
  var grid = c === 4 ? rhoGrid : xGrid;
  var lines = r < 2 ? raw : raw.map(function (ys) {
    return ys.map(function (v, i) { return [grid[i], v]; });
  });

  // matplotlib style autoscale: data extent plus 5% margins
  var all = [].concat.apply([], lines);
  var xe = d3.extent(all, function (d) { return d[0]; });
  var ye = d3.extent(all, function (d) { return d[1]; });
  var xp = (xe[1] - xe[0]) * 0.05, yp = (ye[1] - ye[0]) * 0.05;
  var x = d3.scaleLinear().domain([xe[0] - xp, xe[1] + xp]).range([left, left + panelW]);
  var y = d3.scaleLinear().domain([ye[0] - yp, ye[1] + yp]).range([top + panelH, top]);

  var clipId = 'clip' + r + c;
  svg.append('clipPath').attr('id', clipId)
    .append('rect').attr('x', left).attr('y', top).attr('width', panelW).attr('height', panelH);

  var g = svg.append('g').attr('clip-path', 'url(#' + clipId + ')');
  var gen = d3.line().x(function (d) { return x(d[0]); }).y(function (d) { return y(d[1]); })
    .curve(d3.curveMonotoneX);

  lines.forEach(function (l, i) {
    g.append('path')
      .attr('d', gen(l))
      .attr('fill', 'none')
      .attr('stroke', crest(i / (lines.length - 1)))
      .attr('stroke-width', 1.1)
      .attr('stroke-opacity', 0.9);
  });

  g.append('line')
    .attr('x1', x(trueValues[c])).attr('x2', x(trueValues[c]))
    .attr('y1', top).attr('y2', top + panelH)
    .attr('stroke', '#008000')
    .attr('stroke-width', 1.5);

  svg.append('rect')
    .attr('x', left).attr('y', top).attr('width', panelW).attr('height', panelH)
    .attr('fill', 'none').attr('stroke', '#222').attr('stroke-width', 0.8);

  var xLabels = c === 4 ? rhoTickLabels : xTickLabels;
  var xAxis = d3.axisBottom(x)
    .tickValues(xLabels.map(function (s) { return +s.replace('−', '-'); }))
    .tickFormat(function (d, i) { return xLabels[i]; })
    .tickSize(3.5).tickPadding(5);
  var gx = svg.append('g').attr('transform', 'translate(0,' + (top + panelH) + ')').call(xAxis);
  styleAxis(gx);

  var yLabels = yTickLabels[r][c];
  var yAxis = d3.axisLeft(y)
    .tickValues(yLabels.map(Number))
    .tickFormat(function (d, i) { return yLabels[i]; })
    .tickSize(3.5).tickPadding(4);
  var gy = svg.append('g').attr('transform', 'translate(' + left + ',0)').call(yAxis);
  styleAxis(gy);

  svg.append('text')
    .attr('x', left + panelW / 2)
    .attr('y', top + panelH + 34)
    .attr('text-anchor', 'middle')
    .attr('font-size', 12)
    .attr('font-style', 'italic')
    .text(params[c]);
}

function styleAxis(ax) {
  ax.select('.domain').remove();
  ax.attr('font-family', '"DejaVu Sans", sans-serif').attr('font-size', 12);
  ax.selectAll('line').attr('stroke', '#222').attr('stroke-width', 0.8);
  ax.selectAll('text').attr('fill', '#222');
}
</script>
</body>
</html>
